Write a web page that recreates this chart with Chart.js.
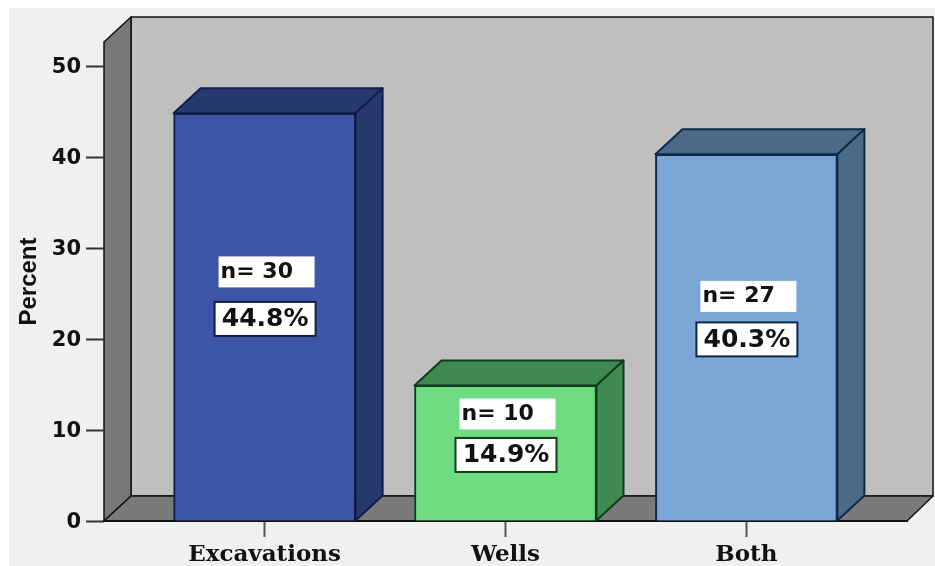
<!DOCTYPE html>
<html>
<head>
<meta charset="utf-8">
<title>Percent by category</title>
<script src="https://cdn.jsdelivr.net/npm/chart.js@4"></script>
<style>
    html, body { margin: 0; padding: 0; background: #fff; }
    canvas { display: block; }
</style>
</head>
<body>
<canvas id="percent-chart" width="935" height="566"></canvas>
<script>
// Chart values
const categories = ['Excavations', 'Wells', 'Both'];
const percentValues = [44.8, 14.9, 40.3];
const counts = [30, 10, 27];
const yTicks = [0, 10, 20, 30, 40, 50];

// Bar colours
const frontColors = ['#3d56a8', '#6edc80', '#7aa7d6'];
const shadeColors = ['#273a70', '#3f8a50', '#4b6a88'];
const edgeColors = ['#101c4c', '#123c1c', '#0d2a4c'];

// Depth of the 3D box, and how far each count label sits above its percent label
const depthX = 27;
const depthY = 25;
const countGaps = [47, 41, 43];

function polygon(ctx, points, fill, stroke, lineWidth) {
    ctx.beginPath();
    points.forEach(([x, y], i) => (i ? ctx.lineTo(x, y) : ctx.moveTo(x, y)));
    ctx.closePath();
    ctx.fillStyle = fill;
    ctx.fill();
    ctx.strokeStyle = stroke;
    ctx.lineWidth = lineWidth;
    ctx.lineJoin = 'round';
    ctx.stroke();
}

// Page panel, back wall, side wall and floor
const roomPlugin = {
    id: 'room',
    beforeDraw(chart) {
        const { ctx, chartArea: { left, right, top, bottom } } = chart;
        ctx.save();
        ctx.fillStyle = '#f0f0f0';
        ctx.fillRect(9, 8, chart.width - 9, chart.height - 8);
        polygon(ctx, [[left + depthX, top - depthY], [right + depthX - 1, top - depthY],
            [right + depthX - 1, bottom - depthY], [left + depthX, bottom - depthY]], '#bfbfbf', '#111', 1.5);
        polygon(ctx, [[left, top], [left + depthX, top - depthY],
            [left + depthX, bottom - depthY], [left, bottom]], '#787878', '#111', 1.5);
        polygon(ctx, [[left, bottom], [left + depthX, bottom - depthY],
            [right + depthX - 1, bottom - depthY], [right, bottom]], '#7a7a7a', '#111', 1.5);
        ctx.restore();
    }
};

// Top and side faces of each bar
const barDepthPlugin = {
    id: 'barDepth',
    beforeDatasetsDraw(chart) {
        const { ctx } = chart;
        ctx.save();
        chart.getDatasetMeta(0).data.forEach((bar, i) => {
            const l = bar.x - bar.width / 2;
            const r = bar.x + bar.width / 2;
            polygon(ctx, [[l, bar.y], [l + depthX, bar.y - depthY], [r + depthX, bar.y - depthY], [r, bar.y]],
                shadeColors[i], edgeColors[i], 2);
            polygon(ctx, [[r, bar.y], [r + depthX, bar.y - depthY], [r + depthX, bar.base - depthY], [r, bar.base]],
                shadeColors[i], edgeColors[i], 2);
        });
        ctx.restore();
    }
};

// White count and percent labels inside the bars
const barLabelPlugin = {
    id: 'barLabels',
    afterDatasetsDraw(chart) {
        const { ctx } = chart;
        ctx.save();
        ctx.textBaseline = 'middle';
        chart.getDatasetMeta(0).data.forEach((bar, i) => {
            const midY = (bar.y + bar.base) / 2 + 2;

            // percent box has an outline
            ctx.fillStyle = '#fff';
            ctx.fillRect(bar.x - 50, midY - 17, 101, 34);
            ctx.strokeStyle = edgeColors[i];
            ctx.lineWidth = 2;
            ctx.strokeRect(bar.x - 50, midY - 17, 101, 34);
            ctx.fillStyle = '#111';
            ctx.textAlign = 'center';
            ctx.font = 'bold 25px "DejaVu Sans"';
            ctx.fillText(percentValues[i].toFixed(1) + '%', bar.x + 0.5, midY + 1);

            // count box has none, text starts at its left edge
            const countY = midY - countGaps[i];
            ctx.fillStyle = '#fff';
            ctx.fillRect(bar.x - 46, countY - 15.5, 96, 31);
            ctx.fillStyle = '#111';
            ctx.textAlign = 'left';
            ctx.font = 'bold 22px "DejaVu Sans"';
            ctx.fillText('n= ' + counts[i], bar.x - 44, countY);
        });
        ctx.restore();
    }
};

function initChart() {
    const ctx = document.getElementById('percent-chart').getContext('2d');
    new Chart(ctx, {
        type: 'bar',
        data: {
            datasets: [{
                label: 'Percent',
                data: percentValues.map((y, i) => ({ x: i, y })),
                backgroundColor: frontColors,
                borderColor: edgeColors,
                borderWidth: 2,
                barThickness: 182
            }]
        },
        options: {
            responsive: false,
            animation: false,
            layout: { padding: { top: 42, right: 28 } },
            plugins: { legend: { display: false }, tooltip: { enabled: false } },
            scales: {
                x: {
                    type: 'linear',
                    offset: false,
                    min: -2 / 3,
                    max: 8 / 3,
                    afterBuildTicks: scale => { scale.ticks = categories.map((_, i) => ({ value: i })); },
                    afterFit: scale => { scale.height = 45; },
                    grid: { offset: false, drawOnChartArea: false, tickLength: 16, tickColor: '#555', tickWidth: 2 },
                    border: { color: '#111', width: 2 },
                    ticks: {
                        autoSkip: false,
                        maxRotation: 0,
                        padding: 4,
                        color: '#111',
                        font: { family: '"DejaVu Serif"', weight: 'bold', size: 23 },
                        callback: value => categories[value]
                    }
                },
                y: {
                    min: 0,
                    max: 52.64,
                    afterBuildTicks: scale => { scale.ticks = yTicks.map(value => ({ value })); },
                    afterFit: scale => { scale.width = 104; },
                    grid: { drawOnChartArea: false, tickLength: 18, tickColor: '#333', tickWidth: 2 },
                    border: { display: false },
                    title: {
                        display: true,
                        text: 'Percent',
                        color: '#111',
                        padding: { top: 15, bottom: 0 },
                        font: { family: '"Liberation Sans"', weight: 'bold', size: 24 }
                    },
                    ticks: {
                        padding: 5,
                        labelOffset: 2,
                        color: '#111',
                        font: { family: '"DejaVu Sans"', weight: 'bold', size: 21 }
                    }
                }
            }
        },
        plugins: [roomPlugin, barDepthPlugin, barLabelPlugin]
    });
}

document.addEventListener('DOMContentLoaded', initChart);
</script>
</body>
</html>
